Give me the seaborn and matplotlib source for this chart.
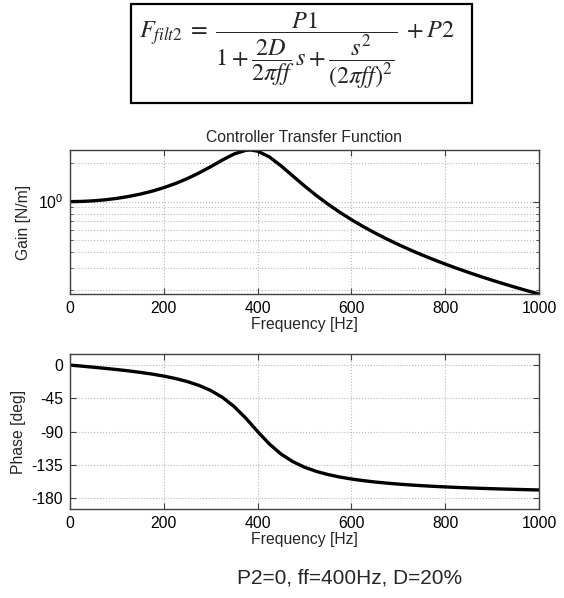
import numpy as np
import pandas as pd
import matplotlib
matplotlib.use("Agg")
import matplotlib.pyplot as plt
import seaborn as sns
from matplotlib.ticker import FixedLocator, NullFormatter, FixedFormatter
from matplotlib.patches import Rectangle

# ---- data ----
freq_hz = [0, 25, 50, 75, 100, 125, 150, 175, 200, 225, 250, 275, 300, 325, 350,
           375, 385, 400, 425, 450, 475, 500, 525, 550, 575, 600, 625, 650, 675,
           700, 725, 750, 775, 800, 825, 850, 875, 900, 925, 950, 975, 1000]
gain = [1.0000, 1.0036, 1.0146, 1.0333, 1.0607, 1.0977, 1.1463, 1.2087, 1.2883,
        1.3895, 1.5182, 1.6814, 1.8851, 2.1266, 2.3740, 2.5376, 2.5512, 2.5000,
        2.2516, 1.9137, 1.5934, 1.3287, 1.1195, 0.9553, 0.8254, 0.7212, 0.6365,
        0.5667, 0.5084, 0.4591, 0.4171, 0.3809, 0.3495, 0.3221, 0.2979, 0.2765,
        0.2574, 0.2403, 0.2250, 0.2111, 0.1985, 0.1871]
phase_deg = [0.0, -1.44, -2.91, -4.45, -6.09, -7.89, -9.90, -12.21, -14.93,
             -18.22, -22.31, -27.54, -34.44, -43.72, -56.19, -72.10, -79.18,
             -90.0, -106.87, -120.56, -130.81, -138.37, -144.00, -148.30,
             -151.67, -154.36, -156.56, -158.39, -159.93, -161.26, -162.40,
             -163.40, -164.28, -165.07, -165.77, -166.41, -166.98, -167.51,
             -167.99, -168.43, -168.84, -169.22]
x_ticks = [0, 200, 400, 600, 800, 1000]
phase_ticks = [0, -45, -90, -135, -180]
phase_tick_labels = ["0", "-45", "-90", "-135", "-180"]
gain_major = [1.0]
gain_major_labels = [r"$\mathregular{10^0}$"]
gain_minor = [0.2, 0.3, 0.4, 0.5, 0.6, 0.7, 0.8, 0.9, 2.0]
title_text = "Controller Transfer Function"
xlabel_text = "Frequency [Hz]"
gain_label = "Gain [N/m]"
phase_label = "Phase [deg]"
caption_text = "P2=0, ff=400Hz, D=20%"
formula_text = (r"$F_{\mathit{filt2}}\;=\;\dfrac{P1}{1+\dfrac{2D}{2\pi ff}\,s+"
                r"\dfrac{s^2}{(2\pi ff)^2}}\;+P2$")

sns.set_style("ticks")
plt.rcParams["font.family"] = ["Liberation Sans", "DejaVu Sans"]
plt.rcParams["mathtext.fontset"] = "stix"
plt.rcParams["axes.unicode_minus"] = False

W, H = 564, 598
fig = plt.figure(figsize=(W / 100, H / 100), dpi=100)
fig.patch.set_facecolor("white")


def rect(l, t, r, b):
    return [l / W, 1 - b / H, (r - l) / W, (b - t) / H]


ax1 = fig.add_axes(rect(70, 150, 539, 294))
ax2 = fig.add_axes(rect(70, 354, 539, 509))

df = pd.DataFrame({"freq": freq_hz, "gain": gain, "phase": phase_deg})
sns.lineplot(data=df, x="freq", y="gain", ax=ax1, color="black", lw=2.4)
sns.lineplot(data=df, x="freq", y="phase", ax=ax2, color="black", lw=2.4)

FS = 11.3
grid_kw = dict(color="#b8b8b8", linestyle=":", linewidth=0.8)
spine_col = "#404040"

# gain axes
ax1.set_yscale("log")
ax1.set_xlim(0, 1000)
ax1.set_ylim(min(gain), max(gain))
ax1.yaxis.set_major_locator(FixedLocator(gain_major))
ax1.yaxis.set_major_formatter(FixedFormatter(gain_major_labels))
ax1.yaxis.set_minor_locator(FixedLocator(gain_minor))
ax1.yaxis.set_minor_formatter(NullFormatter())
ax1.set_xticks(x_ticks)
ax1.set_title(title_text, fontsize=FS, pad=6)
ax1.set_ylabel(gain_label, fontsize=FS, labelpad=5)
ax1.set_xlabel(xlabel_text, fontsize=FS, labelpad=1)
ax1.grid(True, which="both", **grid_kw)

# phase axes
ax2.set_xlim(0, 1000)
ax2.set_ylim(-195, 15)
ax2.set_yticks(phase_ticks)
ax2.set_yticklabels(phase_tick_labels)
ax2.set_xticks(x_ticks)
ax2.set_ylabel(phase_label, fontsize=FS, labelpad=4)
ax2.set_xlabel(xlabel_text, fontsize=FS, labelpad=1)
ax2.grid(True, which="major", **grid_kw)

for ax in (ax1, ax2):
    ax.set_axisbelow(True)
    for s in ax.spines.values():
        s.set_visible(True)
        s.set_color(spine_col)
        s.set_linewidth(1.0)
    ax.tick_params(which="major", direction="in", length=4, width=0.8,
                   top=True, right=True, labelsize=FS, colors=spine_col,
                   labelcolor="black", pad=5)
    ax.tick_params(which="minor", direction="in", length=2.5, width=0.6,
                   top=False, right=True, colors=spine_col)
    ax.set_facecolor("white")

# formula box
fig.patches.append(Rectangle((131 / W, 1 - 103 / H), (472 - 131) / W, 99 / H,
                             transform=fig.transFigure, fill=False,
                             edgecolor="black", linewidth=1.6))
fig.text(297 / W, 1 - 51 / H, formula_text, fontsize=17.5, ha="center",
         va="center")

# caption
fig.text(350 / W, 1 - 578 / H, caption_text, fontsize=15, ha="center",
         va="center")

fig.savefig("out.png", dpi=100)
